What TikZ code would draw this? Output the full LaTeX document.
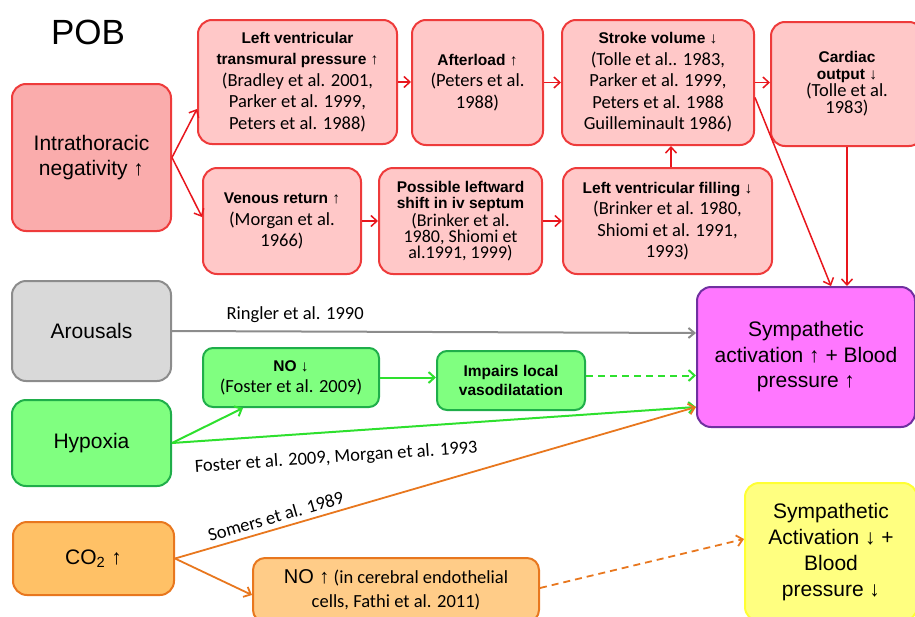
\documentclass[tikz,border=0pt]{standalone}
\usepackage{fontspec}
\setmainfont{Liberation Sans}
\newfontfamily\citef{Carlito}
\usetikzlibrary{arrows.meta,calc}
\definecolor{intrafill}{HTML}{FAACAC}
\definecolor{pinkfill}{HTML}{FFC8C8}
\definecolor{boxred}{HTML}{EE3B3B}
\definecolor{arrred}{HTML}{E8161D}
\definecolor{grayfill}{HTML}{D9D9D9}
\definecolor{grayline}{HTML}{8C8C8C}
\definecolor{greenfill}{HTML}{80FF80}
\definecolor{greenline}{HTML}{1FAE4A}
\definecolor{greenarr}{HTML}{2EE02E}
\definecolor{magfill}{HTML}{FF77FF}
\definecolor{purpline}{HTML}{7030A0}
\definecolor{co2fill}{HTML}{FFC166}
\definecolor{nofill}{HTML}{FFCC88}
\definecolor{orline}{HTML}{E8771E}
\definecolor{yelfill}{HTML}{FFFF80}
\definecolor{yelline}{HTML}{FFFF33}
\newcommand\mainf{\rmfamily\fontsize{21}{25.5}\selectfont}
\newcommand\ct{\citef\fontsize{18.5}{21.5}\selectfont}
\newcommand\hd{\rmfamily\bfseries\fontsize{15.5}{21.5}\selectfont}
\newcommand\ua{{\normalfont ↑}}
\newcommand\da{{\normalfont ↓}}
\tikzset{
  box/.style={draw, rounded corners=14pt, line width=2pt, align=center, inner sep=2pt, text=black},
  rbox/.style={box, draw=boxred, fill=pinkfill},
  gbox/.style={box, draw=greenline, fill=greenfill, rounded corners=10pt},
  redarr/.style={draw=arrred, line width=1.5pt, -{Straight Barb[length=6pt,width=11pt]}},
  grayarr/.style={draw=grayline, line width=2pt, -{Straight Barb[length=6pt,width=10pt]}},
  greenarrow/.style={draw=greenarr, line width=2pt, -{Straight Barb[length=6pt,width=11pt]}},
  orarr/.style={draw=orline, line width=1.8pt, -{Straight Barb[length=6pt,width=11pt]}},
  lbl/.style={font=\ct, text=black, inner sep=2pt}
}
\begin{document}
\begin{tikzpicture}[x=1pt,y=-1pt]
\useasboundingbox (0,0) rectangle (915,616);
\clip (0,0) rectangle (915,616);

\node[font=\rmfamily\fontsize{35}{40}\selectfont, inner sep=0pt] (pob) at (88,32) {POB};

% red chain
\node[rbox, fill=intrafill, minimum width=159, minimum height=147, font=\mainf] (intra) at (91.5,157.5) {Intrathoracic\\negativity \ua};
\node[rbox, minimum width=199, minimum height=124, font=\ct] (lvt) at (297.5,82) {{\hd Left ventricular}\\{\hd transmural pressure \ua}\\(Bradley et al. 2001,\\Parker et al. 1999,\\Peters et al. 1988)};
\node[rbox, minimum width=131, minimum height=125, font=\ct] (after) at (477.5,82.5) {{\hd Afterload \ua}\\(Peters et al.\\1988)};
\node[rbox, minimum width=192, minimum height=125, font=\ct] (stroke) at (658,82.5) {{\hd Stroke volume \da}\\(Tolle et al.. 1983,\\Parker et al. 1999,\\Peters et al. 1988\\Guilleminault 1986)};
\node[rbox, minimum width=152, minimum height=124, font=\citef\fontsize{18.5}{17}\selectfont] (cardiac) at (847,84) {{\rmfamily\bfseries\fontsize{15.5}{15}\selectfont Cardiac}\\{\rmfamily\bfseries\fontsize{15.5}{16}\selectfont output \da}\\(Tolle et al.\\1983)};
\node[rbox, minimum width=158, minimum height=106, font=\ct] (venous) at (282,221) {{\hd Venous return \ua}\\(Morgan et al.\\1966)};
\node[rbox, minimum width=163, minimum height=106, font=\citef\fontsize{18}{16}\selectfont] (leftw) at (460.5,221) {{\rmfamily\bfseries\fontsize{15.5}{15}\selectfont Possible leftward}\\{\rmfamily\bfseries\fontsize{15.5}{16.5}\selectfont shift in iv septum}\\(Brinker et al.\\1980, Shiomi et\\al.1991, 1999)};
\node[rbox, minimum width=209, minimum height=106, font=\ct] (lvfill) at (667.5,221) {{\hd Left ventricular filling \da}\\(Brinker et al. 1980,\\Shiomi et al. 1991,\\1993)};

% other sources
\node[box, draw=grayline, fill=grayfill, minimum width=159, minimum height=100, font=\mainf] (arousal) at (91.5,331) {Arousals};
\node[box, draw=purpline, fill=magfill, minimum width=218, minimum height=140, font=\mainf] (sympa) at (806,357) {Sympathetic\\activation \ua{} + Blood\\pressure \ua};
\node[gbox, minimum width=176, minimum height=59, font=\citef\fontsize{18.5}{21}\selectfont] (nodown) at (291,377.5) {{\rmfamily\bfseries\fontsize{15.5}{21}\selectfont NO \da}\\(Foster et al. 2009)};
\node[gbox, minimum width=148, minimum height=59, font=\rmfamily\bfseries\fontsize{15.5}{19}\selectfont] (impairs) at (511,380.5) {Impairs local\\vasodilatation};
\node[box, draw=greenline, fill=greenfill, minimum width=159, minimum height=86, font=\mainf] (hypoxia) at (91.5,443) {Hypoxia};
\node[box, draw=orline, fill=co2fill, minimum width=161, minimum height=73, font=\mainf] (co2) at (93.5,558.5) {CO\textsubscript{2} \ua};
\node[box, draw=orline, fill=nofill, minimum width=286, minimum height=64, rounded corners=12pt, font=\citef\fontsize{18.5}{24}\selectfont] (noup) at (396,590) {{\rmfamily\fontsize{20}{24}\selectfont NO \ua} (in cerebral endothelial\\cells, Fathi et al. 2011)};
\node[box, draw=yelline, fill=yelfill, minimum width=172, minimum height=138, font=\mainf\fontsize{21}{26}\selectfont] (yellow) at (831,552) {Sympathetic\\Activation \da{} +\\Blood\\pressure \da};

% red arrows
\draw[redarr] (intra.east) -- ([yshift=-27pt]lvt.west);
\draw[redarr] (intra.east) -- ([yshift=4pt]venous.west);
\draw[redarr] (lvt.east) -- (lvt.east -| after.west);
\draw[redarr] (after.east) -- (after.east -| stroke.west);
\draw[redarr] (stroke.east) -- (stroke.east -| cardiac.west);
\draw[redarr] (venous.east) -- (venous.east -| leftw.west);
\draw[redarr] (leftw.east) -- (leftw.east -| lvfill.west);
\draw[redarr] ([xshift=3.5pt]lvfill.north) -- ([xshift=3.5pt]lvfill.north |- stroke.south);
\draw[redarr] ([yshift=-15pt]stroke.east) -- ([xshift=25pt]sympa.north);
\draw[redarr] (cardiac.south) -- (cardiac.south |- sympa.north);

% gray
\draw[grayarr] (arousal.east) -- node[lbl, pos=0.235, above=6pt] (ringler) {Ringler et al. 1990} ([yshift=24pt]sympa.west);

% green
\draw[greenarrow] (hypoxia.east) -- ([xshift=-48pt]nodown.south);
\draw[greenarrow] (hypoxia.east) -- node[lbl, pos=0.31, below=15pt, sloped] (foster) {Foster et al. 2009, Morgan et al. 1993} ([yshift=-50pt]sympa.west);
\draw[greenarrow] (nodown.east) -- (nodown.east -| impairs.west);
\draw[greenarrow, dashed, dash pattern=on 7pt off 5pt] ([yshift=5pt]impairs.east) -- ([yshift=5pt]impairs.east -| sympa.west);

% orange
\draw[orarr] (co2.east) -- node[lbl, pos=0.2, above=3pt, sloped] (somers) {Somers et al. 1989} ([yshift=-50pt]sympa.west);
\draw[orarr] (co2.east) -- ([yshift=-5pt]noup.west);
\draw[orarr, dashed, dash pattern=on 7pt off 5pt] ([yshift=2pt]noup.east) -- ([yshift=13pt]yellow.west);
\end{tikzpicture}
\end{document}
